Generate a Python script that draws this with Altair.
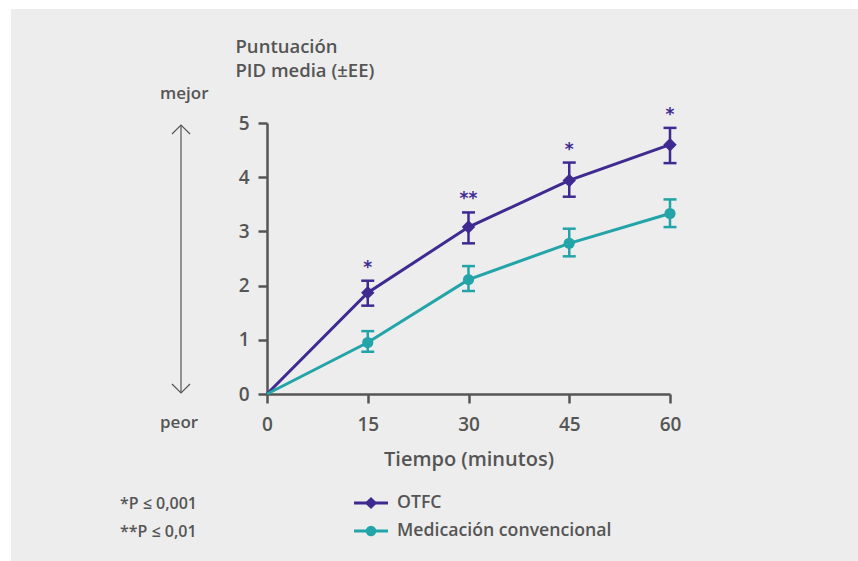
import altair as alt
import pandas as pd

# ---- data ----
tiempo = [0, 15, 30, 45, 60]
otfc = [0, 1.87, 3.08, 3.94, 4.60]
otfc_lo = [0, 1.63, 2.78, 3.64, 4.26]
otfc_hi = [0, 2.09, 3.35, 4.27, 4.91]
conv = [0, 0.95, 2.11, 2.78, 3.33]
conv_lo = [0, 0.78, 1.90, 2.54, 3.08]
conv_hi = [0, 1.16, 2.36, 3.05, 3.59]
signif = ["", "*", "**", "*", "*"]
series = ["OTFC", "Medicación convencional"]
colors = ["#3F2A91", "#23A4A9"]
markers = ["diamond", "circle"]
x_ticks = [0, 15, 30, 45, 60]
y_ticks = [0, 1, 2, 3, 4, 5]
footnotes = ["*P ≤ 0,001", "**P ≤ 0,01"]
y_title = ["Puntuación", "PID media (±EE)"]
x_title = "Tiempo (minutos)"
better, worse = "mejor", "peor"

FONT = "Open Sans"
FW = 600
GREY = "#555555"

rows = []
for i, t in enumerate(tiempo):
    rows.append(dict(t=t, serie=series[0], v=otfc[i], lo=otfc_lo[i], hi=otfc_hi[i], sig=signif[i]))
    rows.append(dict(t=t, serie=series[1], v=conv[i], lo=conv_lo[i], hi=conv_hi[i], sig=""))
df = pd.DataFrame(rows)

one = pd.DataFrame({"a": [0]})

color_scale = alt.Scale(domain=series, range=colors)
xs = alt.Scale(domain=[0, 60], nice=False)
ys = alt.Scale(domain=[0, 5], nice=False)

base = alt.Chart(df)

lines = base.mark_line(strokeWidth=3).encode(
    x=alt.X("t:Q", scale=xs,
            axis=alt.Axis(values=x_ticks, title=x_title, titlePadding=15,
                          titleFontSize=20, labelFlush=False, labelPadding=12)),
    y=alt.Y("v:Q", scale=ys,
            axis=alt.Axis(values=y_ticks, title=y_title, titleAngle=0,
                          titleAlign="left", titleBaseline="alphabetic",
                          titleX=-32, titleY=-71, titleLineHeight=24, titleFontSize=18.5,
                          labelFlush=False, labelPadding=9)),
    color=alt.Color("serie:N", scale=color_scale, legend=None),
    detail="serie:N",
)

eb = base.transform_filter("datum.t > 0")

rules = eb.mark_rule(strokeWidth=2.5).encode(
    x="t:Q", y="lo:Q", y2="hi:Q",
    color=alt.Color("serie:N", scale=color_scale, legend=None),
)
caps_lo = eb.mark_tick(orient="horizontal", thickness=2.5, size=13, opacity=1).encode(
    x="t:Q", y="lo:Q", color=alt.Color("serie:N", scale=color_scale, legend=None))
caps_hi = eb.mark_tick(orient="horizontal", thickness=2.5, size=13, opacity=1).encode(
    x="t:Q", y="hi:Q", color=alt.Color("serie:N", scale=color_scale, legend=None))

diam = eb.transform_filter(alt.datum.serie == series[0]).mark_point(
    shape=markers[0], filled=True, size=180, opacity=1).encode(
    x="t:Q", y="v:Q", color=alt.Color("serie:N", scale=color_scale, legend=None))
circ = eb.transform_filter(alt.datum.serie == series[1]).mark_point(
    shape=markers[1], filled=True, size=125, opacity=1).encode(
    x="t:Q", y="v:Q", color=alt.Color("serie:N", scale=color_scale, legend=None))

stars = eb.transform_filter(alt.datum.serie == series[0]).mark_text(
    font="DejaVu Sans", fontSize=17, fontWeight="bold", dy=-13, color=colors[0]).encode(
    x="t:Q", y="hi:Q", text="sig:N")

# legend (drawn from the series / colours / markers lists)
legend_layers = []
for i, (s, c, m) in enumerate(zip(series, colors, markers)):
    yy = 380 + 28 * i
    leg = alt.Chart(pd.DataFrame({"serie": [s]}))
    legend_layers.append(leg.mark_rule(color=c, strokeWidth=3).encode(
        x=alt.value(87), x2=alt.value(121), y=alt.value(yy)))
    legend_layers.append(leg.mark_point(shape=m, filled=True, color=c, opacity=1,
                                        size=150 if m == "diamond" else 110).encode(
        x=alt.value(104), y=alt.value(yy)))
    legend_layers.append(leg.mark_text(font=FONT, fontSize=17.7, fontWeight=FW, color=GREY,
                                       align="left", baseline="middle").encode(
        x=alt.value(130), y=alt.value(yy), text="serie:N"))

# white margins around the grey panel
strip_top = alt.Chart(one).mark_rect(color="white").encode(
    x=alt.value(-267), x2=alt.value(591), y=alt.value(-123), y2=alt.value(-114))
strip_left = alt.Chart(one).mark_rect(color="white").encode(
    x=alt.value(-267), x2=alt.value(-256), y=alt.value(-123), y2=alt.value(438))

arrow_line = alt.Chart(one).mark_rule(color=GREY, strokeWidth=1.2).encode(
    x=alt.value(-86), y=alt.value(2), y2=alt.value(270))
arrow_up = alt.Chart(one).mark_point(shape="M -1 1 L 0 0 L 1 1", filled=False,
                                     color=GREY, strokeWidth=1.2, size=324, opacity=1).encode(
    x=alt.value(-86), y=alt.value(2))
arrow_dn = alt.Chart(one).mark_point(shape="M -1 -1 L 0 0 L 1 -1", filled=False,
                                     color=GREY, strokeWidth=1.2, size=324, opacity=1).encode(
    x=alt.value(-86), y=alt.value(270))

txt = dict(font=FONT, fontWeight=FW, color=GREY, align="left", baseline="alphabetic")
t_better = alt.Chart(one).mark_text(fontSize=17, **txt).encode(
    x=alt.value(-107), y=alt.value(-24), text=alt.value(better))
t_worse = alt.Chart(one).mark_text(fontSize=17, **txt).encode(
    x=alt.value(-107), y=alt.value(305), text=alt.value(worse))
t_foot = alt.Chart(one).mark_text(fontSize=16, lineHeight=28, **txt).encode(
    x=alt.value(-147), y=alt.value(386), text=alt.value(footnotes))

chart = alt.layer(
    lines, rules, caps_lo, caps_hi, diam, circ, stars, *legend_layers,
    strip_top, strip_left, arrow_line, arrow_up, arrow_dn, t_better, t_worse, t_foot,
).properties(
    width=403, height=271,
    autosize=alt.AutoSizeParams(type="none"),
    padding={"left": 267, "top": 123, "right": 188, "bottom": 167},
    background="#EDEDED",
).configure_view(strokeWidth=0).configure_axis(
    grid=False, domainColor=GREY, domainWidth=2.5, tickColor=GREY, tickWidth=2.5,
    tickSize=9, labelColor=GREY, labelFont=FONT, labelFontSize=19,
    labelFontWeight=FW, titleColor=GREY, titleFont=FONT,
    titleFontSize=19, titleFontWeight=FW,
)

chart.save("out.html", embed_options={"renderer": "svg", "actions": False})
